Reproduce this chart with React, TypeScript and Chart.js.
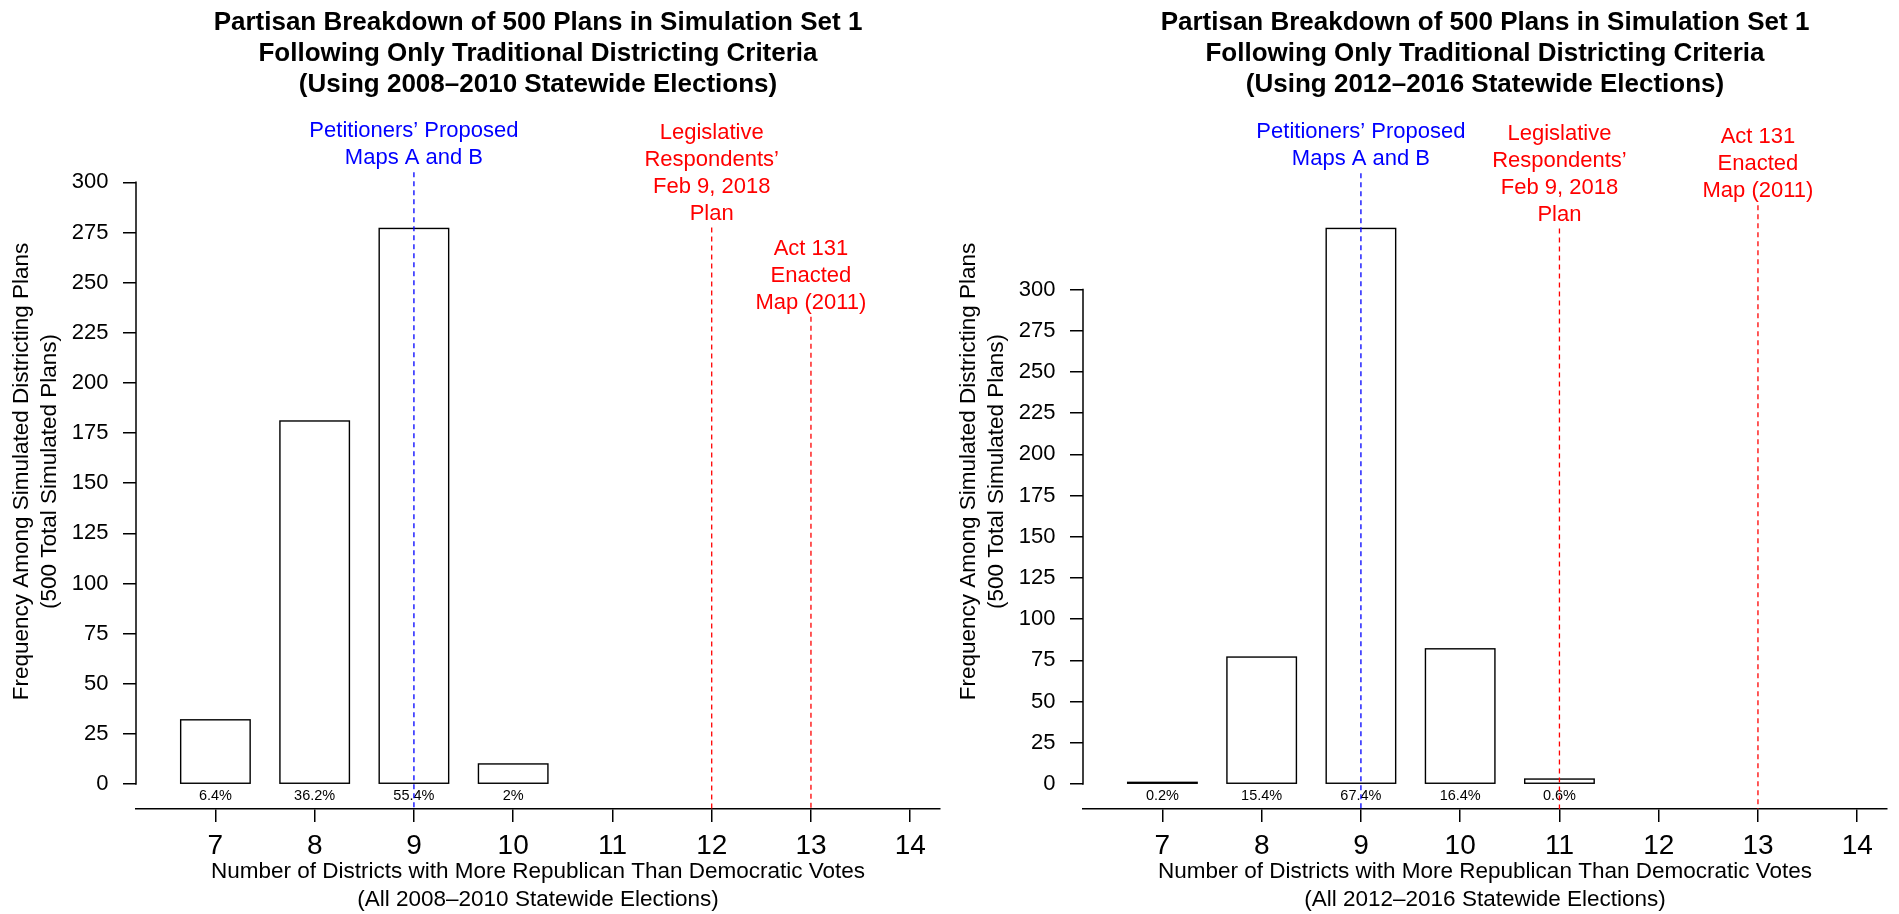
import React, { useEffect, useRef } from 'react';
import { Chart, registerables } from 'chart.js';

Chart.register(...registerables);

const FONT = "'Liberation Sans', Arial, Helvetica, sans-serif";
Chart.defaults.font.family = FONT;
Chart.defaults.color = '#000';

// ---- shared axis values ----
const districtTicks = [7, 8, 9, 10, 11, 12, 13, 14];
const frequencyTicks = [0, 25, 50, 75, 100, 125, 150, 175, 200, 225, 250, 275, 300];
const districtLimits = [6.5, 14];
const yTitle = ['Frequency Among Simulated Districting Plans', '(500 Total Simulated Plans)'];

// ---- panel 1: 2008–2010 elections ----
const set1Districts = [7, 8, 9, 10];
const set1Counts = [32, 181, 277, 10];
const set1Percents = ['6.4%', '36.2%', '55.4%', '2%'];
const set1Title = [
  'Partisan Breakdown of 500 Plans in Simulation Set 1',
  'Following Only Traditional Districting Criteria',
  '(Using 2008–2010 Statewide Elections)',
];
const set1XTitle = [
  'Number of Districts with More Republican Than Democratic Votes',
  '(All 2008–2010 Statewide Elections)',
];
const set1MarkerDistricts = [9, 12, 13];
const set1MarkerTops = [305, 277.5, 233];
const set1MarkerColors = ['#0000FF', '#FF0000', '#FF0000'];
const set1MarkerLabels = [
  ['Petitioners’ Proposed', 'Maps A and B'],
  ['Legislative', 'Respondents’', 'Feb 9, 2018', 'Plan'],
  ['Act 131', 'Enacted', 'Map (2011)'],
];

// ---- panel 2: 2012–2016 elections ----
const set2Districts = [7, 8, 9, 10, 11];
const set2Counts = [1, 77, 337, 82, 3];
const set2Percents = ['0.2%', '15.4%', '67.4%', '16.4%', '0.6%'];
const set2Title = [
  'Partisan Breakdown of 500 Plans in Simulation Set 1',
  'Following Only Traditional Districting Criteria',
  '(Using 2012–2016 Statewide Elections)',
];
const set2XTitle = [
  'Number of Districts with More Republican Than Democratic Votes',
  '(All 2012–2016 Statewide Elections)',
];
const set2MarkerDistricts = [9, 11, 13];
const set2MarkerTops = [370.5, 337, 351];
const set2MarkerColors = ['#0000FF', '#FF0000', '#FF0000'];
const set2MarkerLabels = [
  ['Petitioners’ Proposed', 'Maps A and B'],
  ['Legislative', 'Respondents’', 'Feb 9, 2018', 'Plan'],
  ['Act 131', 'Enacted', 'Map (2011)'],
];

type PanelProps = {
  left: number;
  districts: number[];
  counts: number[];
  percents: string[];
  title: string[];
  xTitle: string[];
  markerDistricts: number[];
  markerTops: number[];
  markerColors: string[];
  markerLabels: string[][];
};

const PANEL_W = 947;
const PANEL_H = 914;

function Panel(props: PanelProps) {
  const ref = useRef<HTMLCanvasElement | null>(null);

  useEffect(() => {
    if (!ref.current) return;
    const p = props;
    // R-style limits: ylim = c(0, max * 1.125), 4% extension on both ends
    const yTop = Math.max(...p.counts) * 1.125;
    const yMin = -0.04 * yTop;
    const yMax = yTop * 1.04;
    const xRange = districtLimits[1] - districtLimits[0];
    const xMin = districtLimits[0] - 0.04 * xRange;
    const xMax = districtLimits[1] + 0.04 * xRange;

    const overlay = {
      id: 'rOverlay',
      afterDatasetsDraw(chart: any) {
        const { ctx, chartArea } = chart;
        const xs = chart.scales.x;
        const ys = chart.scales.y;
        const meta = chart.getDatasetMeta(0);
        ctx.save();

        // bar outlines, stroked centred on the bar edges (as R's rect() does)
        ctx.strokeStyle = '#000';
        ctx.lineWidth = 1.4;
        meta.data.forEach((bar: any) => {
          const { x, y, base, width } = bar.getProps(['x', 'y', 'base', 'width'], true);
          ctx.strokeRect(x - width / 2, Math.min(y, base), width, Math.abs(base - y));
        });

        // y axis line spanning first..last tick (R style)
        ctx.lineWidth = 1.5;
        ctx.beginPath();
        ctx.moveTo(chartArea.left, ys.getPixelForValue(frequencyTicks[0]) + 0.75);
        ctx.lineTo(chartArea.left, ys.getPixelForValue(frequencyTicks[frequencyTicks.length - 1]) - 0.75);
        ctx.stroke();

        // percentage labels under bars
        ctx.font = `14.5px ${FONT}`;
        ctx.fillStyle = '#000';
        ctx.textAlign = 'center';
        ctx.textBaseline = 'middle';
        const y0 = ys.getPixelForValue(0);
        meta.data.forEach((bar: any, i: number) => {
          ctx.fillText(p.percents[i], bar.x, y0 + 12);
        });

        // reference lines and labels
        p.markerDistricts.forEach((d, i) => {
          const px = xs.getPixelForValue(d);
          const top = ys.getPixelForValue(p.markerTops[i]);
          ctx.strokeStyle = p.markerColors[i];
          ctx.lineWidth = 1.3;
          ctx.setLineDash([5, 4]);
          ctx.beginPath();
          ctx.moveTo(px, top);
          ctx.lineTo(px, chartArea.bottom);
          ctx.stroke();
          ctx.setLineDash([]);
          ctx.font = `22px ${FONT}`;
          ctx.fillStyle = p.markerColors[i];
          const lines = p.markerLabels[i];
          lines.forEach((t, j) => {
            ctx.fillText(t, px, top - 14 - (lines.length - 1 - j) * 27);
          });
        });
        ctx.restore();
      },
    };

    const chart = new Chart(ref.current, {
      type: 'bar',
      data: {
        datasets: [
          {
            data: p.districts.map((d, i) => ({ x: d, y: p.counts[i] })),
            backgroundColor: '#FFFFFF',
            borderColor: '#000000',
            borderWidth: 0,
            borderSkipped: false,
            barPercentage: 0.7,
            categoryPercentage: 1,
            inflateAmount: 0,
          } as any,
        ],
      },
      options: {
        responsive: true,
        maintainAspectRatio: false,
        animation: false,
        events: [],
        layout: { padding: { left: 0, right: 7, top: 0, bottom: 0 } },
        plugins: {
          legend: { display: false },
          tooltip: { enabled: false },
          title: {
            display: true,
            text: p.title,
            color: '#000',
            fullSize: false,
            font: { size: 26, weight: 'bold', lineHeight: 1.2 },
            padding: { top: 7.1, bottom: 33.3 },
          },
        },
        scales: {
          x: {
            type: 'linear',
            min: xMin,
            max: xMax,
            offset: false,
            afterBuildTicks: (axis: any) => {
              axis.ticks = districtTicks.map((v) => ({ value: v }));
            },
            afterFit: (axis: any) => {
              axis.height = 105;
            },
            grid: {
              display: true,
              drawOnChartArea: false,
              drawTicks: true,
              tickLength: 13,
              color: '#000',
              lineWidth: 1.5,
              offset: false,
            },
            border: { display: true, color: '#000', width: 1.5 },
            ticks: {
              color: '#000',
              font: { size: 28, lineHeight: 1.2 },
              padding: 7,
              maxRotation: 0,
              autoSkip: false,
            },
            title: {
              display: true,
              text: p.xTitle,
              color: '#000',
              font: { size: 22.5, lineHeight: 1.258 },
              padding: { top: 0, bottom: 0 },
            },
          },
          y: {
            type: 'linear',
            min: yMin,
            max: yMax,
            afterBuildTicks: (axis: any) => {
              axis.ticks = frequencyTicks.map((v) => ({ value: v }));
            },
            afterFit: (axis: any) => {
              axis.width = 136;
            },
            grid: {
              display: true,
              drawOnChartArea: false,
              drawTicks: true,
              tickLength: 13,
              color: '#000',
              lineWidth: 1.5,
              offset: false,
            },
            border: { display: false },
            ticks: {
              color: '#000',
              font: { size: 22 },
              padding: 14.5,
              autoSkip: false,
            },
            title: {
              display: true,
              text: yTitle,
              color: '#000',
              font: { size: 22.5, lineHeight: 1.258 },
              padding: { top: 7.5, bottom: 0 },
            },
          },
        },
      } as any,
      plugins: [overlay as any],
    });
    return () => chart.destroy();
  }, []);

  return (
    <div
      style={{
        position: 'absolute',
        left: props.left,
        top: 0,
        width: PANEL_W,
        height: PANEL_H,
      }}
    >
      <canvas ref={ref} />
    </div>
  );
}

export default function App() {
  useEffect(() => {
    document.body.style.margin = '0';
    document.body.style.background = '#fff';
  }, []);
  return (
    <div
      style={{
        position: 'absolute',
        left: 0,
        top: 0,
        width: 1899,
        height: 914,
        background: '#FFFFFF',
        overflow: 'hidden',
      }}
    >
      <Panel
        left={0}
        districts={set1Districts}
        counts={set1Counts}
        percents={set1Percents}
        title={set1Title}
        xTitle={set1XTitle}
        markerDistricts={set1MarkerDistricts}
        markerTops={set1MarkerTops}
        markerColors={set1MarkerColors}
        markerLabels={set1MarkerLabels}
      />
      <Panel
        left={947}
        districts={set2Districts}
        counts={set2Counts}
        percents={set2Percents}
        title={set2Title}
        xTitle={set2XTitle}
        markerDistricts={set2MarkerDistricts}
        markerTops={set2MarkerTops}
        markerColors={set2MarkerColors}
        markerLabels={set2MarkerLabels}
      />
    </div>
  );
}
